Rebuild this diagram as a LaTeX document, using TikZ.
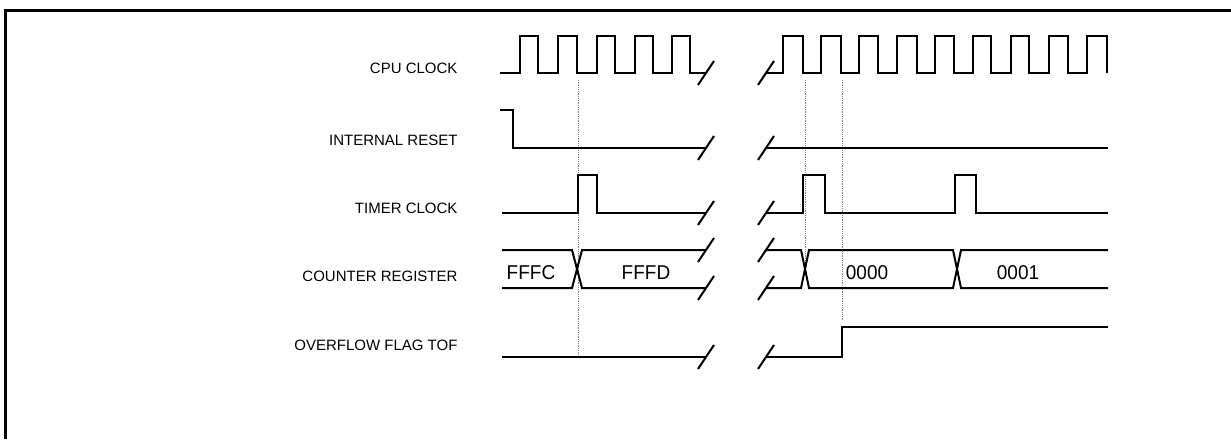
\documentclass[tikz,border=0pt]{standalone}
\usepackage{fontspec}
\setmainfont{Liberation Sans}

\newcommand\cutmark[2]{\draw[brk] (#1,#2) ++(-8,12) -- ++(16,-24);}

\begin{document}
\begin{tikzpicture}[x=1pt,y=-1pt,
        sig/.style={line width=2pt},
        brk/.style={line width=2pt},
        lbl/.style={anchor=east,font=\fontsize{15}{18}\selectfont},
        val/.style={font=\fontsize{20}{24}\selectfont,xscale=0.95},
        guide/.style={densely dotted,line width=0.8pt,gray}]
    \useasboundingbox (0,0) rectangle (1231,439);
    \draw [line width=2.5pt] (5.5,439) -- (5.5,10.5) -- (1231,10.5);

    % signal names
    \node [lbl] (cpuclk) at (461,68) {CPU CLOCK};
    \node [lbl] (intrst) at (461,140) {INTERNAL RESET};
    \node [lbl] (tmrclk) at (461,208) {TIMER CLOCK};
    \node [lbl] (cntreg) at (461,276) {COUNTER REGISTER};
    \node [lbl] (ovfflag) at (461,345) {OVERFLOW FLAG TOF};

    % guides
    \draw [guide] (578,80) -- (578,355);
    \draw [guide] (805,80) -- (805,275);
    \draw [guide] (842,80) -- (842,320);

    % cpu clock
    \draw [sig] (500,73) -- (520,73) -- (520,36) -- (538,36) -- (538,73)
        -- (558,73) -- (558,36) -- (577,36) -- (577,73)
        -- (597,73) -- (597,36) -- (615,36) -- (615,73)
        -- (635,73) -- (635,36) -- (653,36) -- (653,73)
        -- (672,73) -- (672,36) -- (690,36) -- (690,73) -- (706,73);
    \draw [sig] (766,73) -- (783,73) -- (783,36) -- (803,36) -- (803,73)
        -- (821,73) -- (821,36) -- (841,36) -- (841,73)
        -- (859,73) -- (859,36) -- (878,36) -- (878,73)
        -- (897,73) -- (897,36) -- (917,36) -- (917,73)
        -- (935,73) -- (935,36) -- (954,36) -- (954,73)
        -- (973,73) -- (973,36) -- (991,36) -- (991,73)
        -- (1011,73) -- (1011,36) -- (1029,36) -- (1029,73)
        -- (1049,73) -- (1049,36) -- (1068,36) -- (1068,73)
        -- (1087,73) -- (1087,36) -- (1107,36) -- (1107,73);

    % internal reset
    \draw [sig] (500,110) -- (513,110) -- (513,148) -- (706,148);
    \draw [sig] (766,148) -- (1108,148);

    % timer clock
    \draw [sig] (502,213) -- (578,213) -- (578,175) -- (597,175) -- (597,213) -- (706,213);
    \draw [sig] (766,213) -- (803,213) -- (803,175) -- (825,175) -- (825,213)
        -- (955,213) -- (955,175) -- (976,175) -- (976,213) -- (1108,213);

    % counter register
    \draw [sig] (502,250) -- (572,250) -- (582,288) -- (706,288);
    \draw [sig] (502,288) -- (572,288) -- (582,250) -- (706,250);
    \draw [sig] (766,250) -- (801,250) -- (809,288) -- (953,288) -- (961,250) -- (1108,250);
    \draw [sig] (766,288) -- (801,288) -- (809,250) -- (953,250) -- (961,288) -- (1108,288);
    \node [val] (fffc) at (531,273) {FFFC};
    \node [val] (fffd) at (646,273) {FFFD};
    \node [val] (v0000) at (867,273) {0000};
    \node [val] (v0001) at (1018,273) {0001};

    % overflow flag
    \draw [sig] (502,357) -- (706,357);
    \draw [sig] (766,357) -- (842,357) -- (842,327) -- (1108,327);

    % breaks
    \cutmark{706}{73}   \cutmark{766}{73}
    \cutmark{706}{148}  \cutmark{766}{148}
    \cutmark{706}{213}  \cutmark{766}{213}
    \cutmark{706}{250}  \cutmark{766}{250}
    \cutmark{706}{288}  \cutmark{766}{288}
    \cutmark{706}{357}  \cutmark{766}{357}
\end{tikzpicture}
\end{document}
